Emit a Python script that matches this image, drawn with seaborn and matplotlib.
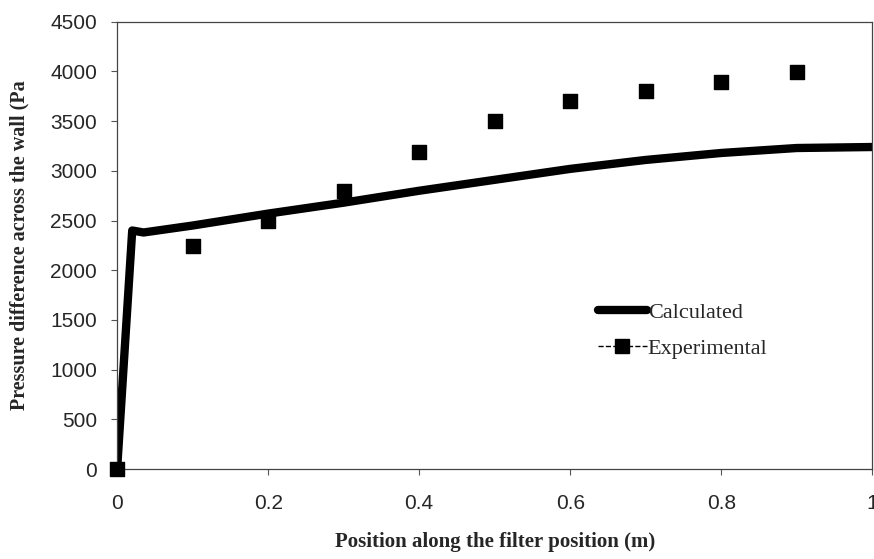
import numpy as np
import pandas as pd
import seaborn as sns
import matplotlib.pyplot as plt
from matplotlib.lines import Line2D

# calculated pressure drop along the wall
calc_x = [0.0, 0.02, 0.035, 0.1, 0.2, 0.3, 0.4, 0.5, 0.6, 0.7, 0.8, 0.9, 1.0]
calc_y = [0, 2400, 2380, 2450, 2570, 2680, 2800, 2910, 3020, 3110, 3180, 3230, 3240]

# experimental points
exp_x = [0.0, 0.1, 0.2, 0.3, 0.4, 0.5, 0.6, 0.7, 0.8, 0.9]
exp_y = [0, 2240, 2500, 2800, 3190, 3500, 3700, 3800, 3890, 3990]

x_ticks = [0, 0.2, 0.4, 0.6, 0.8, 1]
x_tick_labels = ['0', '0.2', '0.4', '0.6', '0.8', '1']
y_ticks = list(range(0, 4501, 500))

calc_df = pd.DataFrame({'x': calc_x, 'y': calc_y})
exp_df = pd.DataFrame({'x': exp_x, 'y': exp_y})

sns.set_style('ticks')
plt.rcParams['font.family'] = ['Liberation Sans', 'DejaVu Sans']

fig = plt.figure(figsize=(8.74, 5.59), dpi=100)
ax = fig.add_axes([0.134, 0.161, 0.864, 0.800])

sns.lineplot(data=calc_df, x='x', y='y', ax=ax, color='black', linewidth=6,
             solid_joinstyle='round', solid_capstyle='round', legend=False)
sns.scatterplot(data=exp_df, x='x', y='y', ax=ax, color='black', marker='s',
                s=105, edgecolor='black', linewidth=1.0, legend=False, zorder=5,
                clip_on=False)

ax.set_xlim(0, 1)
ax.set_ylim(0, 4500)
ax.set_xticks(x_ticks)
ax.set_xticklabels(x_tick_labels)
ax.set_yticks(y_ticks)
ax.tick_params(axis='x', labelsize=15, length=4, pad=14, color='#555555')
ax.tick_params(axis='y', labelsize=15, length=4, pad=10.5, color='#555555')
for sp in ax.spines.values():
    sp.set_visible(True)
    sp.set_linewidth(0.9)
    sp.set_color('#444444')

ax.set_xlabel('Position along the filter position (m)', family='Liberation Serif',
              fontweight='bold', fontsize=15, labelpad=14)
ax.set_ylabel('Pressure difference across the wall (Pa', family='Liberation Serif',
              fontweight='bold', fontsize=14.5, labelpad=15)

handles = [
    Line2D([], [], color='black', linewidth=6),
    Line2D([], [], color='black', linewidth=1, linestyle='--', marker='s', markersize=10),
]
leg = ax.legend(handles, ['Calculated', 'Experimental'], loc='center left',
                bbox_to_anchor=(0.61, 0.31), frameon=False, handlelength=2.2,
                handletextpad=0.05, labelspacing=0.7,
                prop={'family': 'Liberation Serif', 'size': 16})

fig.savefig('out.png', dpi=100)
